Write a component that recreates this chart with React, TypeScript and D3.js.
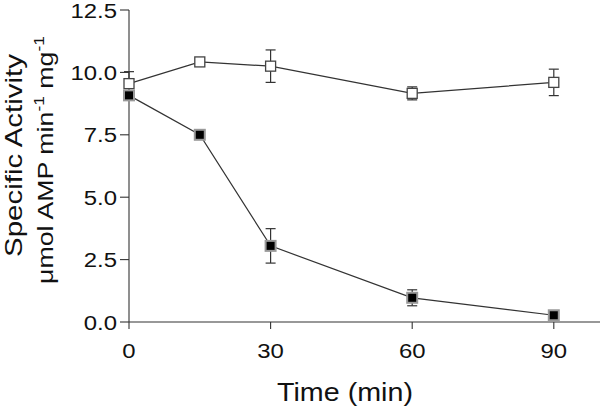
import React, { useLayoutEffect, useRef, useState } from "react";
import * as d3 from "d3";

const times = [0, 15, 30, 60, 90];
const controlValues = [9.55, 10.42, 10.25, 9.16, 9.6];
const controlErrors = [0.48, 0.12, 0.65, 0.26, 0.53];
const treatedValues = [9.08, 7.5, 3.05, 0.97, 0.27];
const treatedErrors = [0.1, 0.1, 0.69, 0.32, 0.08];
const xTicks = [0, 30, 60, 90];
const yTicks = [0, 2.5, 5, 7.5, 10, 12.5];

const FONT = "'Liberation Sans', Arial, Helvetica, sans-serif";
const AXIS = "#333";

function FitText({ x, y, rotate = 0, target, fontSize, anchor = "middle", children }: any) {
  const ref = useRef<SVGTextElement>(null);
  const [s, setS] = useState(1);
  useLayoutEffect(() => {
    if (ref.current) {
      const w = ref.current.getBBox().width;
      if (w > 0) setS(target / w);
    }
  }, [target]);
  return (
    <g transform={`translate(${x},${y}) rotate(${rotate}) scale(${s},1)`}>
      <text ref={ref} textAnchor={anchor} fontSize={fontSize} fontFamily={FONT} fill="#111">
        {children}
      </text>
    </g>
  );
}

export default function App() {
  const x = d3.scaleLinear().domain([0, 100]).range([129, 601]);
  const y = d3.scaleLinear().domain([0, 12.5]).range([322, 10]);

  const control = times.map((t, i) => ({ t, v: controlValues[i], e: controlErrors[i] }));
  const treated = times.map((t, i) => ({ t, v: treatedValues[i], e: treatedErrors[i] }));

  const line = d3
    .line<{ t: number; v: number }>()
    .x((d) => x(d.t))
    .y((d) => y(d.v));

  const cap = 5;
  const errBars = (data: any[], key: string) =>
    data.map((d, i) => {
      const cx = x(d.t);
      const top = y(d.v + d.e);
      const bot = y(d.v - d.e);
      return (
        <g key={key + i} stroke={AXIS} strokeWidth={1.2}>
          <line x1={cx} x2={cx} y1={top} y2={bot} />
          <line x1={cx - cap} x2={cx + cap} y1={top} y2={top} />
          <line x1={cx - cap} x2={cx + cap} y1={bot} y2={bot} />
        </g>
      );
    });

  const size = 10;

  return (
    <svg
      width={600}
      height={409}
      style={{ position: "fixed", left: 0, top: 0, background: "#fff" }}
    >
      <rect x={0} y={0} width={600} height={409} fill="#fff" />
      {/* axes */}
      <line x1={x(0)} x2={x(0)} y1={y(12.5)} y2={y(0)} stroke={AXIS} strokeWidth={1.1} />
      <line x1={x(0)} x2={600} y1={y(0)} y2={y(0)} stroke={AXIS} strokeWidth={1.1} />
      {yTicks.map((t) => (
        <g key={"yt" + t}>
          <line x1={x(0) - 9} x2={x(0)} y1={y(t)} y2={y(t)} stroke={AXIS} strokeWidth={1.1} />
          <g transform={`translate(117,${y(t) + 7.5}) scale(1.14,1)`}>
            <text textAnchor="end" fontSize={21} fontFamily={FONT} fill="#111">
              {t.toFixed(1)}
            </text>
          </g>
        </g>
      ))}
      {xTicks.map((t) => (
        <g key={"xt" + t}>
          <line x1={x(t)} x2={x(t)} y1={y(0)} y2={y(0) + 7} stroke={AXIS} strokeWidth={1.1} />
          <g transform={`translate(${x(t)},357.5) scale(1.14,1)`}>
            <text textAnchor="middle" fontSize={21} fontFamily={FONT} fill="#111">
              {t}
            </text>
          </g>
        </g>
      ))}
      <FitText x={345} y={401} target={136} fontSize={26}>
        Time (min)
      </FitText>
      <FitText x={22} y={155.5} rotate={-90} target={203} fontSize={24}>
        Specific Activity
      </FitText>
      <FitText x={53} y={160} rotate={-90} target={248} fontSize={23}>
        μmol AMP min
        <tspan dy={-9} fontSize={15}>-1</tspan>
        <tspan dy={9}> mg</tspan>
        <tspan dy={-9} fontSize={15}>-1</tspan>
      </FitText>

      {/* series */}
      <path d={line(control) || ""} fill="none" stroke={AXIS} strokeWidth={1.2} />
      <path d={line(treated) || ""} fill="none" stroke={AXIS} strokeWidth={1.2} />
      {errBars(control, "ce")}
      {errBars(treated, "te")}
      {control.map((d, i) => (
        <rect
          key={"c" + i}
          x={x(d.t) - size / 2}
          y={y(d.v) - size / 2}
          width={size}
          height={size}
          fill="#fff"
          stroke="#444"
          strokeWidth={1.3}
        />
      ))}
      {treated.map((d, i) => (
        <rect
          key={"t" + i}
          x={x(d.t) - size / 2}
          y={y(d.v) - size / 2}
          width={size}
          height={size}
          fill="#000"
          stroke="#999"
          strokeWidth={2}
        />
      ))}
    </svg>
  );
}
